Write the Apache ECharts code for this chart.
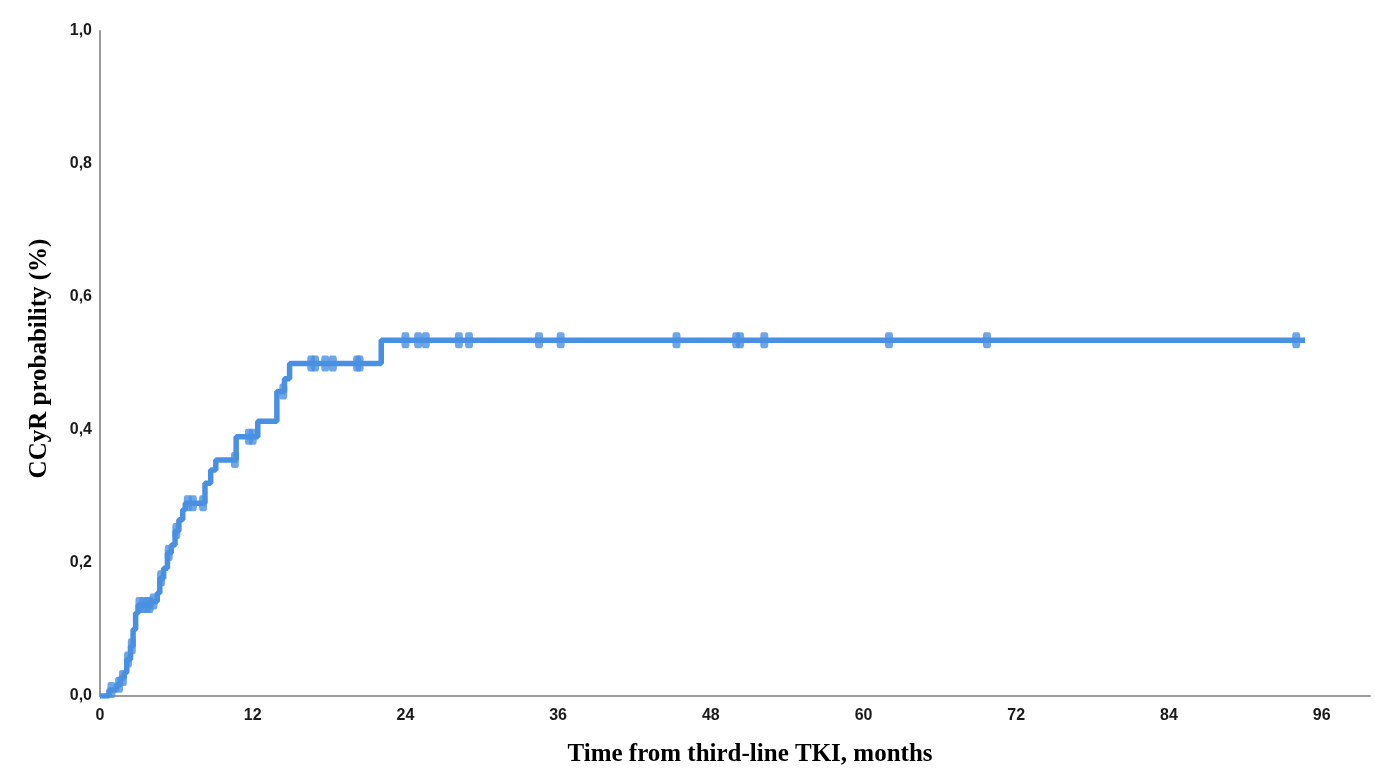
<!DOCTYPE html>
<html lang="en">
  <head>
    <meta charset="UTF-8" />
    <title>CCyR probability</title>
    <script src="https://cdn.jsdelivr.net/npm/echarts@6.0.0/dist/echarts.min.js"></script>
    <style>
      html,
      body {
        margin: 0;
        padding: 0;
        background: #fff;
      }
      #chart {
        width: 1375px;
        height: 783px;
      }
    </style>
  </head>
  <body>
    <div id="chart"></div>
    <script>
      // step (event) times in months and cumulative CCyR probability after each step
      const eventTimes = [
        0, 0.7, 1.3, 1.6, 1.9, 2.1, 2.4, 2.6, 2.8, 3.0, 4.0, 4.5, 4.7, 5.0,
        5.3, 5.6, 5.9, 6.2, 6.5, 6.7, 8.25, 8.7, 9.1, 10.7, 12.4, 13.9, 14.5,
        14.9, 22.1, 94.7,
      ];
      const eventProb = [
        0, 0.009, 0.017, 0.027, 0.035, 0.055, 0.075, 0.1, 0.125, 0.137, 0.142,
        0.155, 0.177, 0.192, 0.215, 0.227, 0.248, 0.265, 0.28, 0.29, 0.32,
        0.34, 0.355, 0.39, 0.413, 0.458, 0.477, 0.5, 0.535, 0.535,
      ];
      // censored observations (months)
      const censorTimes = [
        0.9, 1.5, 1.8, 2.2, 2.5, 3.1, 3.4, 3.7, 3.9, 4.2, 4.8, 5.4, 6.0, 6.9,
        7.3, 8.1, 10.6, 11.7, 12.0, 14.4, 16.6, 16.9, 17.7, 18.3, 20.2, 20.4,
        24.0, 25.0, 25.6, 28.2, 29.0, 34.5, 36.2, 45.3, 50.0, 50.3, 52.2,
        62.0, 69.7, 94.0,
      ];
      const xTicks = [0, 12, 24, 36, 48, 60, 72, 84, 96];

      function probAt(t) {
        let p = 0;
        for (let i = 0; i < eventTimes.length; i++) {
          if (eventTimes[i] <= t) p = eventProb[i];
        }
        return p;
      }

      const lineColor = "#4a90e2";
      const titleFont = {
        fontFamily: "Liberation Serif",
        fontWeight: "bold",
        fontSize: 25,
        color: "#000",
      };
      const tickFont = {
        fontFamily: "Liberation Sans",
        fontWeight: "bold",
        fontSize: 16,
        color: "#1a1a1a",
      };

      const chart = echarts.init(document.getElementById("chart"));
      const option = {
        animation: false,
        grid: { left: 100, top: 31, right: 5, bottom: 87 },
        xAxis: {
          type: "value",
          min: 0,
          max: 99.8,
          interval: 12,
          name: "Time from third-line TKI, months",
          nameLocation: "middle",
          nameGap: 46,
          nameTextStyle: { ...titleFont, padding: [0, 0, 0, 30] },
          axisLine: { lineStyle: { color: "#9a9a9a", width: 2 } },
          axisTick: { show: false },
          splitLine: { show: false },
          axisLabel: {
            ...tickFont,
            margin: 12,
            formatter: (v) => (xTicks.includes(v) ? String(v) : ""),
          },
        },
        yAxis: {
          type: "value",
          min: 0,
          max: 1,
          interval: 0.2,
          name: "CCyR probability (%)",
          nameLocation: "middle",
          nameGap: 48,
          nameTextStyle: { ...titleFont, padding: [0, 0, 0, 10] },
          axisLine: { show: true, lineStyle: { color: "#9a9a9a", width: 2 } },
          axisTick: { show: false },
          splitLine: { show: false },
          axisLabel: {
            ...tickFont,
            margin: 8,
            formatter: (v) => v.toFixed(1).replace(".", ","),
          },
        },
        series: [
          {
            type: "line",
            step: "end",
            showSymbol: false,
            lineStyle: { color: lineColor, width: 5.5 },
            data: eventTimes.map((t, i) => [t, eventProb[i]]),
            z: 2,
          },
          {
            type: "scatter",
            symbol: "roundRect",
            symbolSize: [8, 16],
            itemStyle: { color: lineColor },
            data: censorTimes.map((t) => [t, probAt(t)]),
            z: 3,
          },
        ],
      };
      chart.setOption(option);
    </script>
  </body>
</html>
